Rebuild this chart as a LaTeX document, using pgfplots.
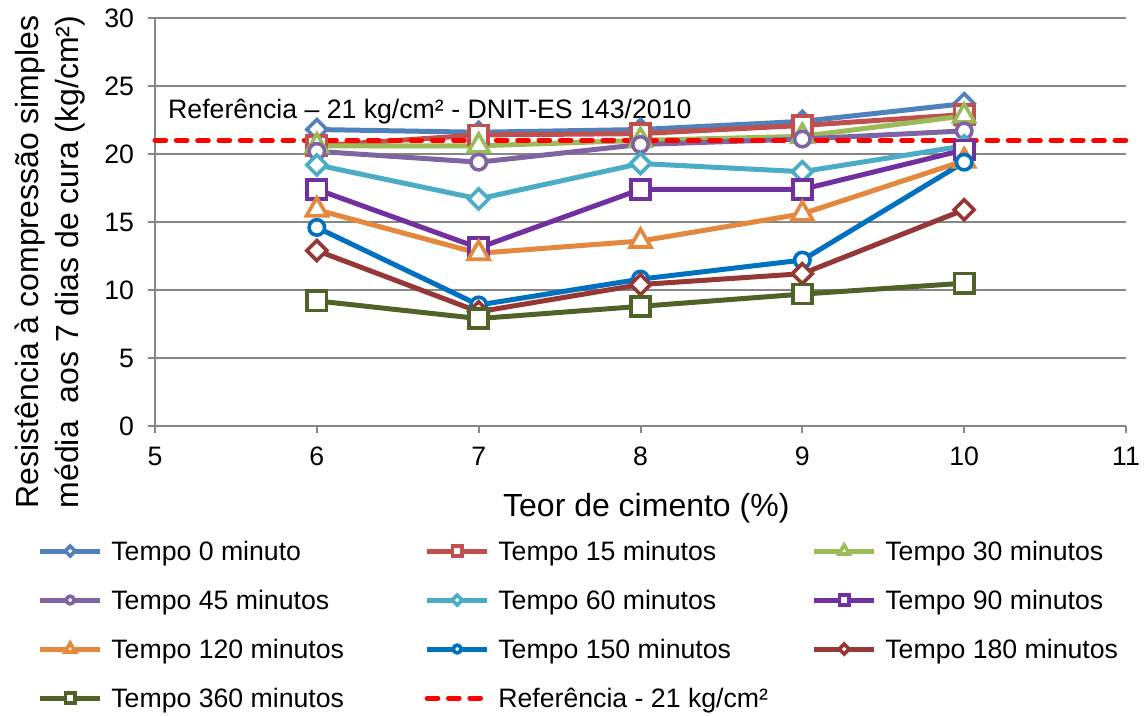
\documentclass[border=0pt]{standalone}
\usepackage{fontspec}
\setmainfont{Liberation Sans}
\usepackage{pgfplots}
\pgfplotsset{compat=1.18}
\definecolor{cA}{HTML}{4F81BD}
\definecolor{cB}{HTML}{C0504D}
\definecolor{cC}{HTML}{9BBB59}
\definecolor{cD}{HTML}{8064A2}
\definecolor{cE}{HTML}{4BACC6}
\definecolor{cF}{HTML}{7030A0}
\definecolor{cG}{HTML}{E3883C}
\definecolor{cH}{HTML}{0070C0}
\definecolor{cI}{HTML}{953735}
\definecolor{cJ}{HTML}{4F6228}
\definecolor{gridc}{HTML}{868686}
\newcommand{\legtxt}[1]{\makebox[241.5pt][l]{\hspace{6.5pt}#1}}
\begin{document}
\begin{tikzpicture}
\begin{axis}[
  at={(0,0)}, anchor=south west,
  scale only axis, width=728.25pt, height=306pt,
  xmin=5, xmax=11, ymin=0, ymax=30,
  xtick={5,6,7,8,9,10,11}, ytick={0,5,10,15,20,25,30},
  axis x line=bottom, axis y line=left,
  axis line style={-, draw=gridc, line width=1.5pt},
  major tick style={draw=gridc, line width=1.5pt},
  major tick length=5.25pt, tick align=outside,
  ymajorgrids, grid style={draw=gridc, line width=1.5pt},
  /pgf/number format/assume math mode=true,
  ticklabel style={font=\fontsize{20}{24}\selectfont},
  yticklabel style={xshift=-7pt},
  xticklabel style={yshift=-7pt},
  xlabel={Teor de cimento (\%)},
  xlabel style={font=\fontsize{24}{30}\selectfont, at={(axis description cs:0.506,-0.222)}, anchor=base},
  ylabel={Resistência à compressão simples\\média\ \ aos 7 dias de cura (kg/cm²)},
  ylabel style={font=\fontsize{24}{30}\selectfont, align=center, at={(axis description cs:-0.108,0.402)}, anchor=center},
  every axis plot/.append style={line width=3.75pt},
  legend columns=3,
  legend cell align=left,
  legend image code/.code={\draw[mark repeat=2,mark phase=2,#1,/tikz/every mark/.append style={scale=0.5}] plot coordinates {(0pt,0pt)(22.5pt,0pt)(45pt,0pt)};},
  legend style={at={(axis description cs:-0.1208,-0.2777)}, anchor=north west, draw=none, fill=none,
    inner sep=0pt, outer sep=0pt, column sep=0pt, row sep=19.15pt,
    nodes={inner sep=0pt, text height=16pt, text depth=1.6pt},
    font=\fontsize{20}{24}\selectfont},
  clip=false,
]
\addplot[color=cA, mark=square*, mark options={solid, fill=white, line width=2.7pt, rotate=45}, mark size=5.3pt] coordinates {(6,21.8)(7,21.6)(8,21.8)(9,22.4)(10,23.7)};
\addlegendentry{\legtxt{Tempo 0 minuto}}
\addplot[color=cB, mark=square*, mark options={solid, fill=white, line width=2.7pt}, mark size=7.2pt] coordinates {(6,20.6)(7,21.4)(8,21.5)(9,22.1)(10,22.9)};
\addlegendentry{\legtxt{Tempo 15 minutos}}
\addplot[color=cC, mark=triangle*, mark options={solid, fill=white, line width=2.7pt}, mark size=9pt] coordinates {(6,20.6)(7,20.6)(8,21.0)(9,21.3)(10,22.8)};
\addlegendentry{\legtxt{Tempo 30 minutos}}
\addplot[color=cD, mark=*, mark options={solid, fill=white, line width=2.7pt}, mark size=5.8pt] coordinates {(6,20.2)(7,19.4)(8,20.7)(9,21.1)(10,21.7)};
\addlegendentry{\legtxt{Tempo 45 minutos}}
\addplot[color=cE, mark=square*, mark options={solid, fill=white, line width=2.7pt, rotate=45}, mark size=5.3pt] coordinates {(6,19.2)(7,16.7)(8,19.3)(9,18.7)(10,20.6)};
\addlegendentry{\legtxt{Tempo 60 minutos}}
\addplot[color=cF, mark=square*, mark options={solid, fill=white, line width=2.7pt}, mark size=7.2pt] coordinates {(6,17.4)(7,13.1)(8,17.4)(9,17.4)(10,20.3)};
\addlegendentry{\legtxt{Tempo 90 minutos}}
\addplot[color=cG, mark=triangle*, mark options={solid, fill=white, line width=2.7pt}, mark size=9pt] coordinates {(6,15.9)(7,12.7)(8,13.6)(9,15.6)(10,19.5)};
\addlegendentry{\legtxt{Tempo 120 minutos}}
\addplot[color=cH, mark=*, mark options={solid, fill=white, line width=2.7pt}, mark size=5.8pt] coordinates {(6,14.6)(7,8.9)(8,10.8)(9,12.2)(10,19.4)};
\addlegendentry{\legtxt{Tempo 150 minutos}}
\addplot[color=cI, mark=square*, mark options={solid, fill=white, line width=2.7pt, rotate=45}, mark size=5.3pt] coordinates {(6,12.9)(7,8.4)(8,10.4)(9,11.2)(10,15.9)};
\addlegendentry{\legtxt{Tempo 180 minutos}}
\addplot[color=cJ, mark=square*, mark options={solid, fill=white, line width=2.7pt}, mark size=7.2pt] coordinates {(6,9.2)(7,7.9)(8,8.8)(9,9.7)(10,10.5)};
\addlegendentry{\legtxt{Tempo 360 minutos}}
\addplot[color=red, no marks, line width=3.75pt, line cap=round, dash pattern=on 8pt off 8pt] coordinates {(5,21)(11,21)};
\addlegendentry{\legtxt{Referência - 21 kg/cm²}}
\node[anchor=base west, inner sep=0pt, font=\fontsize{20}{24}\selectfont] at (axis cs:5.08,22.6) {Referência – 21 kg/cm² - DNIT-ES 143/2010};
\end{axis}
\pgfresetboundingbox
\useasboundingbox (-116.25pt,-216.75pt) rectangle (743.25pt,319.5pt);
\end{tikzpicture}
\end{document}
